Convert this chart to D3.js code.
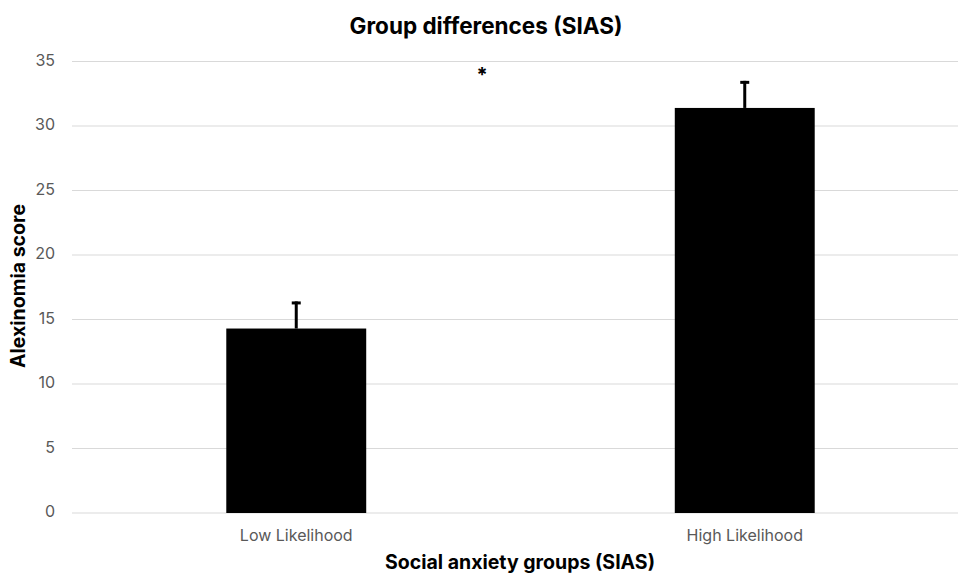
<!DOCTYPE html>
<html lang="en">
<head>
    <meta charset="UTF-8">
    <title>Group differences (SIAS)</title>
    <style>
        * { margin: 0; padding: 0; }
        html, body { overflow: hidden; background: #fff; }
        text { font-family: Inter, "Noto Sans", sans-serif; }
    </style>
</head>
<body>
    <div id="chart"></div>
    <script src="https://cdn.jsdelivr.net/npm/d3@7"></script>
    <script>
        const groups = ['Low Likelihood', 'High Likelihood']
        const means = [14.3, 31.4]
        const errors = [2.1, 2.1]
        const yTicks = [0, 5, 10, 15, 20, 25, 30, 35]

        function drawChart() {
            const width = 958
            const height = 575

            const svg = d3.select('#chart')
                .append('svg')
                .attr('width', width)
                .attr('height', height)
                .style('background-color', '#fff')

            const data = groups.map((g, i) => ({ group: g, mean: means[i], err: errors[i] }))

            // plot area runs past the right edge of the picture
            const x = d3.scaleBand()
                .domain(groups)
                .range([72, 969])
                .paddingInner(0.688)
                .paddingOuter(0.344)

            const y = d3.scaleLinear()
                .domain([0, 35])
                .range([513, 61.5])

            // gridlines
            svg.append('g')
                .selectAll('line')
                .data(yTicks)
                .join('line')
                .attr('x1', 72)
                .attr('x2', width)
                .attr('y1', d => y(d))
                .attr('y2', d => y(d))
                .attr('stroke', '#d9d9d9')
                .attr('stroke-width', 1.2)

            // y tick labels
            svg.append('g')
                .selectAll('text')
                .data(yTicks)
                .join('text')
                .attr('x', 55)
                .attr('y', d => y(d))
                .attr('text-anchor', 'end')
                .attr('dominant-baseline', 'middle')
                .attr('font-size', 16)
                .attr('fill', '#595959')
                .text(d => d)

            // bars
            svg.append('g')
                .selectAll('rect')
                .data(data)
                .join('rect')
                .attr('x', d => x(d.group))
                .attr('y', d => y(d.mean))
                .attr('width', x.bandwidth())
                .attr('height', d => y(0) - y(d.mean))
                .attr('fill', '#000')

            // error bars (upper only)
            const eb = svg.append('g')
            eb.selectAll('line.stem')
                .data(data)
                .join('line')
                .attr('class', 'stem')
                .attr('x1', d => x(d.group) + x.bandwidth() / 2)
                .attr('x2', d => x(d.group) + x.bandwidth() / 2)
                .attr('y1', d => y(d.mean))
                .attr('y2', d => y(d.mean + d.err))
                .attr('stroke', '#000')
                .attr('stroke-width', 3)
            eb.selectAll('line.cap')
                .data(data)
                .join('line')
                .attr('class', 'cap')
                .attr('x1', d => x(d.group) + x.bandwidth() / 2 - 4.5)
                .attr('x2', d => x(d.group) + x.bandwidth() / 2 + 4.5)
                .attr('y1', d => y(d.mean + d.err) + 1.5)
                .attr('y2', d => y(d.mean + d.err) + 1.5)
                .attr('stroke', '#000')
                .attr('stroke-width', 3)

            // category labels
            svg.append('g')
                .selectAll('text')
                .data(groups)
                .join('text')
                .attr('x', d => x(d) + x.bandwidth() / 2)
                .attr('y', 541)
                .attr('text-anchor', 'middle')
                .attr('font-size', 16)
                .attr('fill', '#595959')
                .text(d => d)

            // significance marker
            svg.append('text')
                .attr('x', 482)
                .attr('y', 82)
                .attr('text-anchor', 'middle')
                .attr('font-size', 20)
                .attr('font-weight', 'bold')
                .attr('fill', '#000')
                .text('*')

            // titles
            svg.append('text')
                .attr('x', 486)
                .attr('y', 34)
                .attr('text-anchor', 'middle')
                .attr('font-size', 22.5)
                .attr('font-weight', 'bold')
                .attr('fill', '#000')
                .text('Group differences (SIAS)')

            svg.append('text')
                .attr('x', 520)
                .attr('y', 569)
                .attr('text-anchor', 'middle')
                .attr('font-size', 19.5)
                .attr('font-weight', 'bold')
                .attr('fill', '#000')
                .text('Social anxiety groups (SIAS)')

            svg.append('text')
                .attr('transform', 'translate(25, 286) rotate(-90)')
                .attr('text-anchor', 'middle')
                .attr('font-size', 19.5)
                .attr('font-weight', 'bold')
                .attr('fill', '#000')
                .text('Alexinomia score')
        }

        drawChart()
    </script>
</body>
</html>
